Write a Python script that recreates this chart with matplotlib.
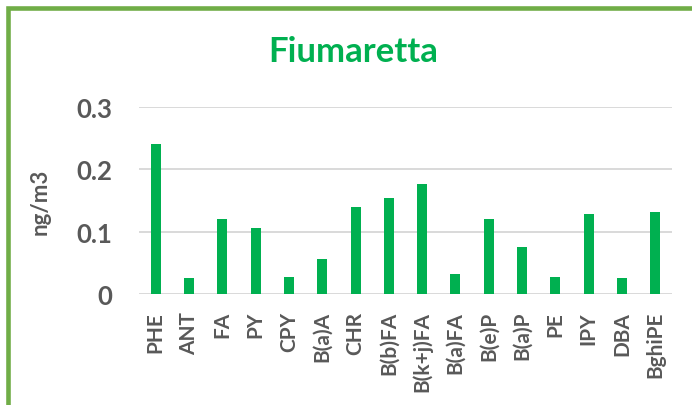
import matplotlib
matplotlib.use("Agg")
import matplotlib.pyplot as plt
from matplotlib.patches import Rectangle
from matplotlib.ticker import FuncFormatter
import numpy as np

# 数据
categories = ["PHE", "ANT", "FA", "PY", "CPY", "B(a)A", "CHR", "B(b)FA",
              "B(k+j)FA", "B(a)FA", "B(e)P", "B(a)P", "PE", "IPY", "DBA", "BghiPE"]
values = [0.241, 0.026, 0.121, 0.106, 0.028, 0.057, 0.140, 0.155,
          0.176, 0.032, 0.121, 0.075, 0.028, 0.129, 0.026, 0.132]
yticks = [0, 0.1, 0.2, 0.3]

TEXT = "#595959"
GREEN = "#00B050"
FONT = "Lato"

plt.rcParams["font.family"] = [FONT, "DejaVu Sans"]
plt.rcParams["font.weight"] = "bold"

W, H = 692, 406
fig = plt.figure(figsize=(W / 100, H / 100), dpi=100)
ax = fig.add_axes([139 / W, 1 - 295.3 / H, (672 - 139) / W, (295.3 - 108) / H])

x = np.arange(len(categories))
ax.bar(x, values, width=0.3, color=GREEN, zorder=3)

ax.set_xlim(-0.5, len(categories) - 0.5)
ax.set_ylim(0, 0.3)
ax.set_yticks(yticks)
ax.yaxis.set_major_formatter(FuncFormatter(lambda v, p: f"{v:g}"))
ax.set_xticks(x)
ax.set_xticklabels(categories, rotation=90, va="top", ha="center")

ax.grid(axis="y", color="#D9D9D9", linewidth=1.4, zorder=0)
for s in ax.spines.values():
    s.set_visible(False)
ax.tick_params(axis="y", length=0, pad=19.5, labelsize=18.5, labelcolor=TEXT)
ax.tick_params(axis="x", length=0, pad=12, labelsize=15, labelcolor=TEXT)
for lbl in ax.get_xticklabels() + ax.get_yticklabels():
    lbl.set_fontweight("bold")

fig.text(40 / W, 1 - 202 / H, "ng/m3", rotation=90, ha="center", va="center",
         fontsize=16, fontweight="bold", color=TEXT)

fig.text(353 / W, 1 - 62 / H, "Fiumaretta", ha="center", va="baseline",
         fontsize=25, fontweight="bold", color=GREEN)

# 外框（右侧和底部被裁掉）
fig.add_artist(Rectangle((7.5 / W, -0.1), 2, (H - 9) / H + 0.1,
                         transform=fig.transFigure, fill=False,
                         edgecolor="#70AD47", linewidth=3.3))

fig.savefig("out.png", dpi=100)
